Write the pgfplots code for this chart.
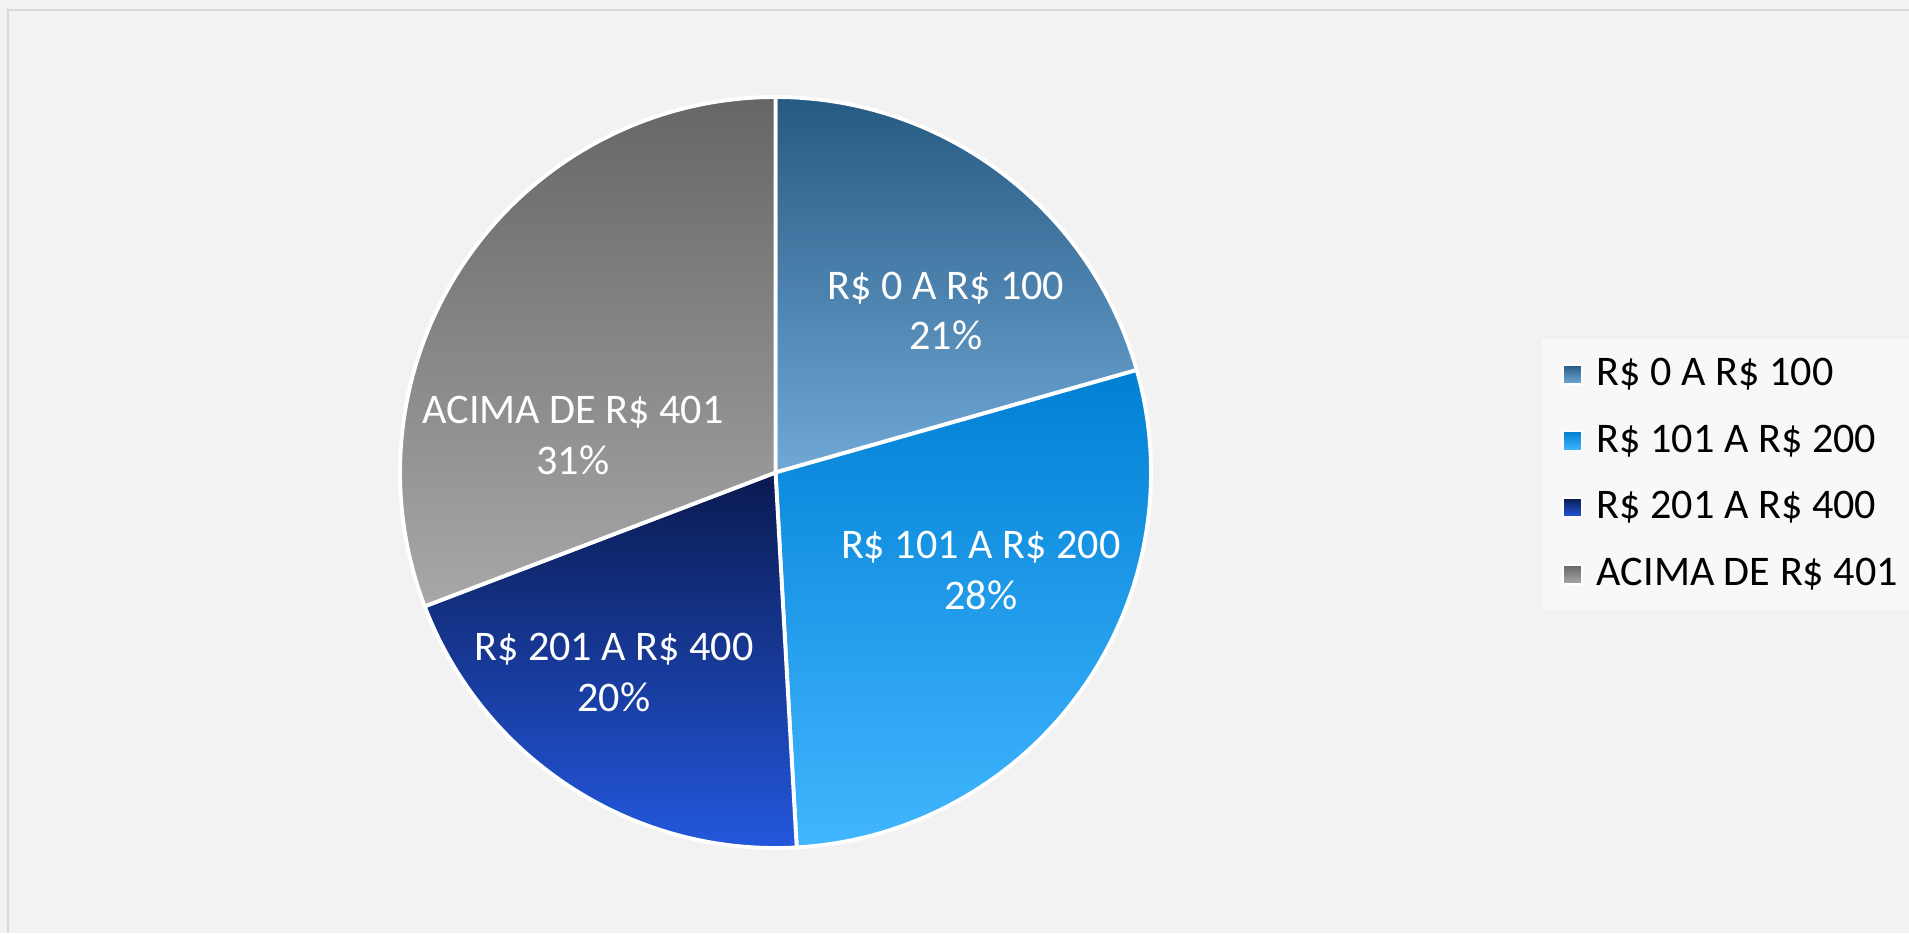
\documentclass[border=0pt]{standalone}
\usepackage{pgfplots}
\usepackage{pgfplotstable}
\pgfplotsset{compat=1.18}
\usepackage{fontspec}
\setmainfont{Carlito}

\definecolor{bgcol}{HTML}{F2F2F2}
\definecolor{framecol}{HTML}{D9D9D9}
\definecolor{legbg}{HTML}{F8F8F8}
\definecolor{aTop}{HTML}{255A82}
\definecolor{aBot}{HTML}{70A8D6}
\definecolor{bTop}{HTML}{0080D4}
\definecolor{bBot}{HTML}{42B6FF}
\definecolor{cTop}{HTML}{0A1A50}
\definecolor{cBot}{HTML}{2459E0}
\definecolor{dTop}{HTML}{666666}
\definecolor{dBot}{HTML}{A8A8A8}

\pgfplotstableread{
label value
A 20.6
B 28.5
C 20.1
D 30.8
}\piedata

\pgfplotsset{pieleg/.style 2 args={legend image code/.code={%
  \path[top color=#1,bottom color=#2,draw=white,line width=0.5pt] (0mm,-0.95mm) rectangle (1.9mm,0.95mm);}}}

\begin{document}
\begin{tikzpicture}
\pgfplotstablegetelem{0}{value}\of\piedata \pgfmathsetmacro\va{\pgfplotsretval}
\pgfplotstablegetelem{1}{value}\of\piedata \pgfmathsetmacro\vb{\pgfplotsretval}
\pgfplotstablegetelem{2}{value}\of\piedata \pgfmathsetmacro\vc{\pgfplotsretval}
\pgfplotstablegetelem{3}{value}\of\piedata \pgfmathsetmacro\vd{\pgfplotsretval}
\pgfmathsetmacro\aA{90}
\pgfmathsetmacro\aB{\aA-3.6*\va}
\pgfmathsetmacro\aC{\aB-3.6*\vb}
\pgfmathsetmacro\aD{\aC-3.6*\vc}
\pgfmathsetmacro\aE{\aD-3.6*\vd}
\def\R{3.755}
\begin{axis}[
  x=1cm, y=1cm,
  xmin=-7.755, xmax=11.335,
  ymin=-4.605, ymax=4.725,
  hide axis, clip=false,
  legend style={at={(axis cs:7.865,1.185)}, anchor=north west,
    draw=none, fill=none, inner sep=0pt, outer sep=0pt,
    row sep=7.47pt, column sep=1.4mm,
    font=\fontsize{12}{14.4}\selectfont,
    nodes={inner sep=0pt, text height=9pt, text depth=2.5pt}},
  legend cell align=left,
]
% background
\fill[bgcol] (axis cs:-7.755,-4.605) rectangle (axis cs:11.335,4.725);
\draw[framecol, line width=0.2mm] (axis cs:-7.675,-4.605) -- (axis cs:-7.675,4.625) -- (axis cs:11.335,4.625);
\fill[legbg] (axis cs:7.665,1.335) rectangle (axis cs:11.335,-1.365);
% slices
\path[top color=aTop, bottom color=aBot, draw=white, line width=1.1pt, line join=round]
  (axis cs:0,0) -- (axis cs:{\R*cos(\aA)},{\R*sin(\aA)}) arc[start angle=\aA, end angle=\aB, radius=\R] -- cycle;
\path[top color=bTop, bottom color=bBot, draw=white, line width=1.1pt, line join=round]
  (axis cs:0,0) -- (axis cs:{\R*cos(\aB)},{\R*sin(\aB)}) arc[start angle=\aB, end angle=\aC, radius=\R] -- cycle;
\path[top color=cTop, bottom color=cBot, draw=white, line width=1.1pt, line join=round]
  (axis cs:0,0) -- (axis cs:{\R*cos(\aC)},{\R*sin(\aC)}) arc[start angle=\aC, end angle=\aD, radius=\R] -- cycle;
\path[top color=dTop, bottom color=dBot, draw=white, line width=1.1pt, line join=round]
  (axis cs:0,0) -- (axis cs:{\R*cos(\aD)},{\R*sin(\aD)}) arc[start angle=\aD, end angle=\aE, radius=\R] -- cycle;
% data labels
\begin{scope}[every node/.style={text=white, align=center, inner sep=0pt, font=\fontsize{12}{14.4}\selectfont}]
\node at (axis cs:1.705,1.615) {R\$ 0 A R\$ 100\\21\%};
\node at (axis cs:2.052,-0.98) {R\$ 101 A R\$ 200\\28\%};
\node at (axis cs:-1.615,-2.00) {R\$ 201 A R\$ 400\\20\%};
\node at (axis cs:-2.025,0.37) {ACIMA DE R\$ 401\\31\%};
\end{scope}
% legend
\addlegendimage{pieleg={aTop}{aBot}}
\addlegendentry{R\$ 0 A R\$ 100}
\addlegendimage{pieleg={bTop}{bBot}}
\addlegendentry{R\$ 101 A R\$ 200}
\addlegendimage{pieleg={cTop}{cBot}}
\addlegendentry{R\$ 201 A R\$ 400}
\addlegendimage{pieleg={dTop}{dBot}}
\addlegendentry{ACIMA DE R\$ 401}
\end{axis}
\pgfresetboundingbox
\path (current axis.south west) rectangle (current axis.north east);
\end{tikzpicture}
\end{document}
